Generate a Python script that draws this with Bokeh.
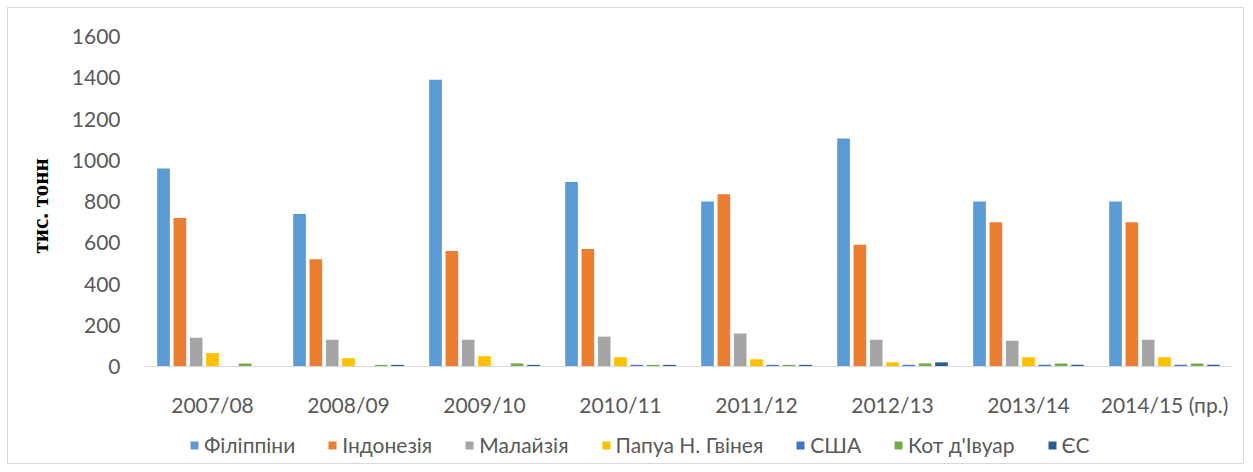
from bokeh.plotting import figure
from bokeh.models import (ColumnDataSource, FactorRange, Range1d, FixedTicker,
                          Legend, LegendItem, Title)
from bokeh.transform import dodge
from bokeh.embed import file_html
from bokeh.resources import INLINE

years = ["2007/08", "2008/09", "2009/10", "2010/11", "2011/12", "2012/13",
         "2013/14", "2014/15 (пр.)"]
philippines = [960, 740, 1390, 895, 800, 1105, 800, 800]
indonesia = [720, 520, 560, 570, 835, 590, 700, 700]
malaysia = [140, 130, 130, 145, 160, 130, 125, 130]
papua = [65, 40, 50, 45, 35, 20, 45, 45]
usa = [0, 0, 0, 8, 8, 8, 8, 8]
cote = [15, 8, 15, 8, 8, 15, 15, 15]
eu = [0, 8, 8, 8, 8, 20, 8, 8]

series_names = ["Філіппіни", "Індонезія", "Малайзія", "Папуа Н. Гвінея",
                "США", "Кот д'Івуар", "ЄС"]
series_keys = ["philippines", "indonesia", "malaysia", "papua", "usa", "cote", "eu"]
series_colors = ["#5B9BD5", "#ED7D31", "#A5A5A5", "#FFC000", "#4472C4",
                 "#70AD47", "#255E91"]
y_ticks = [0, 200, 400, 600, 800, 1000, 1200, 1400, 1600]

source = ColumnDataSource(dict(years=years, philippines=philippines,
                               indonesia=indonesia, malaysia=malaysia,
                               papua=papua, usa=usa, cote=cote, eu=eu))

FONT = "Lato"
GREY = "#595959"

# frame extends below zero so the category axis and legend sit inside it
p = figure(width=1237, height=457, output_backend="svg", toolbar_location=None,
           x_range=FactorRange(*years, range_padding=0),
           y_range=Range1d(-480, 1600),
           min_border_left=136, min_border_right=13,
           min_border_top=28, min_border_bottom=0)
p.styles = {"border": "1px solid #d9d9d9", "margin-left": "7px", "margin-top": "7px"}
p.outline_line_color = None
p.xgrid.grid_line_color = None
p.ygrid.grid_line_color = None
p.background_fill_color = "white"
p.border_fill_color = "white"

slot = 0.12
bar_w = 0.093
items = []
for i, (k, name, col) in enumerate(zip(series_keys, series_names, series_colors)):
    r = p.vbar(x=dodge("years", (i - 3) * slot, range=p.x_range), top=k,
               width=bar_w, source=source, fill_color=col, line_color=None)
    items.append(LegendItem(label=name, renderers=[r]))

# y axis
p.yaxis.ticker = FixedTicker(ticks=y_ticks)
p.yaxis.axis_line_color = None
p.yaxis.major_tick_line_color = None
p.yaxis.minor_tick_line_color = None
p.yaxis.major_tick_out = 0
p.yaxis.major_tick_in = 0
p.yaxis.major_label_standoff = 24
p.yaxis.major_label_text_font = FONT
p.yaxis.major_label_text_font_size = "21px"
p.yaxis.major_label_text_color = GREY

ytitle = Title(text="тис. тонн", align="left", offset=212,
               text_font="Liberation Serif", text_font_style="bold",
               text_font_size="23px", text_color="black", standoff=32)
p.add_layout(ytitle, "left")

# x axis drawn at y = 0
p.xaxis.fixed_location = 0
p.xaxis.axis_line_color = "#d9d9d9"
p.xaxis.axis_line_width = 1
p.xaxis.major_tick_line_color = None
p.xaxis.minor_tick_line_color = None
p.xaxis.major_tick_out = 0
p.xaxis.major_tick_in = 0
p.xaxis.major_label_standoff = 25
p.xaxis.major_label_text_font = FONT
p.xaxis.major_label_text_font_size = "21px"
p.xaxis.major_label_text_color = GREY

legend = Legend(items=items, orientation="horizontal", location=(45, 8),
                glyph_width=10, glyph_height=10, label_standoff=5, spacing=32,
                padding=0, margin=0, border_line_color=None,
                background_fill_alpha=0,
                label_text_font=FONT, label_text_font_size="21px",
                label_text_color=GREY)
p.add_layout(legend, "center")

open("out.html", "w").write(file_html(p, INLINE))
